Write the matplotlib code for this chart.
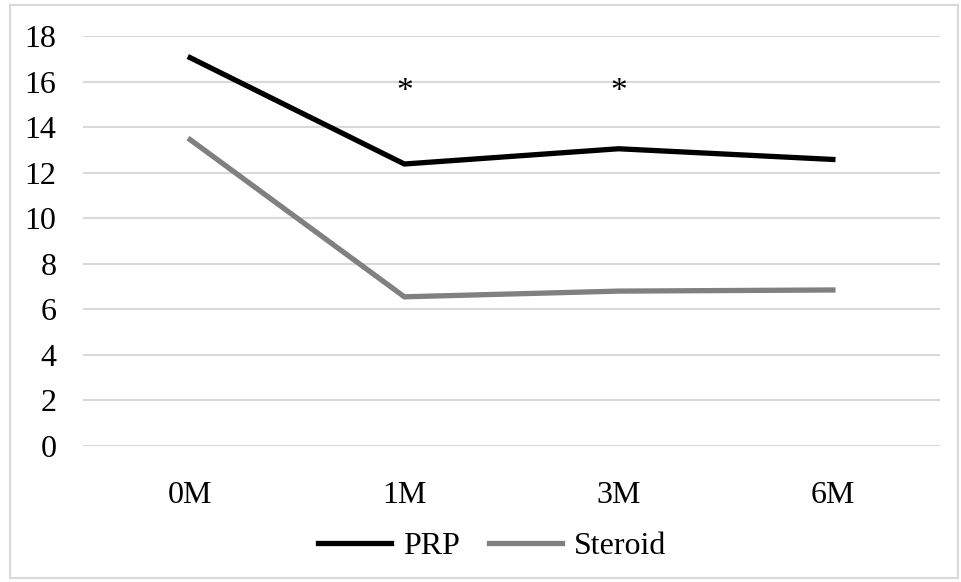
import matplotlib
matplotlib.use('Agg')
import matplotlib.pyplot as plt
from matplotlib.patches import Rectangle

plt.rcParams['font.family'] = ['Liberation Serif', 'DejaVu Serif']

# データ
categories = ['0M', '1M', '3M', '6M']
prp = [17.05, 12.38, 13.05, 12.58]
steroid = [13.45, 6.55, 6.8, 6.85]
star_cats = [1, 2]
star_level = 15.55
yticks = [0, 2, 4, 6, 8, 10, 12, 14, 16, 18]

W, H = 961, 582
fig = plt.figure(figsize=(W / 100, H / 100), dpi=100)

# 外枠
fig.patches.append(Rectangle((10 / W, 4 / H), 948 / W, 573 / H,
                             transform=fig.transFigure, fill=False,
                             edgecolor='#d9d9d9', linewidth=1.5))

ax = fig.add_axes([83 / W, 1 - 446 / H, (940 - 83) / W, 410 / H])
x = list(range(len(categories)))

ax.plot(x, prp, color='black', linewidth=3.8, label='PRP',
        solid_joinstyle='miter')
ax.plot(x, steroid, color='#808080', linewidth=3.8, label='Steroid',
        solid_joinstyle='miter')

for c in star_cats:
    ax.text(c, star_level, '*', ha='center', va='center', fontsize=24)

ax.set_xlim(-0.5, len(categories) - 0.5)
ax.set_ylim(0, 18)
ax.set_yticks(yticks)
ax.set_xticks(x)
ax.set_xticklabels(categories)
ax.yaxis.grid(True, color='#d9d9d9', linewidth=1.5)
ax.set_axisbelow(True)
for s in ax.spines.values():
    s.set_visible(False)
ax.tick_params(axis='both', length=0, labelsize=23)
ax.tick_params(axis='y', pad=19)
ax.tick_params(axis='x', pad=25)
for lbl in ax.get_yticklabels():
    lbl.set_horizontalalignment('right')

ax.legend(loc='center', bbox_to_anchor=(492 / W, 1 - 546 / H),
          bbox_transform=fig.transFigure, ncol=2, frameon=False,
          fontsize=23, handlelength=2.3, handletextpad=0.37,
          columnspacing=0.9)

fig.savefig('out.png', dpi=100)
